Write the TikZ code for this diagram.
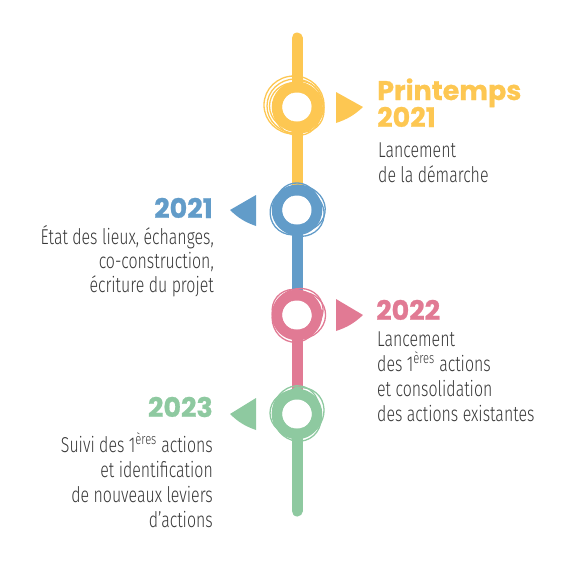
\documentclass[tikz,border=0pt]{standalone}
\usepackage{fontspec}
\setmainfont{Fira Sans Light}[FakeStretch=0.74]
\newfontfamily\headfam{Poppins}[BoldFeatures={FakeBold=0.8}]
\definecolor{ylw}{RGB}{253,199,82}
\definecolor{blu}{RGB}{98,156,201}
\definecolor{pnk}{RGB}{225,122,148}
\definecolor{grn}{RGB}{142,201,160}
\definecolor{txt}{RGB}{55,55,55}
\newcommand\bodysz{\fontsize{21.5}{25}\selectfont}
\newcommand\headsz{\headfam\bfseries\fontsize{27}{27}\selectfont}
\begin{document}
\begin{tikzpicture}[x=1pt,y=-1pt,
  stem/.style={line width=11pt},
  ring/.style={line width=10.5pt},
  scrib/.style={line width=1.3pt},
  bodyl/.style={inner sep=0pt, text=txt, font=\bodysz, anchor=base west},
  bodyr/.style={inner sep=0pt, text=txt, font=\bodysz, anchor=base east},
  headl/.style={inner sep=0pt, font=\headsz, anchor=base west},
  headr/.style={inner sep=0pt, font=\headsz, anchor=base east}]
\useasboundingbox (0,0) rectangle (568,568);
\coordinate (top) at (297,38);
\coordinate (cy) at (297,107);
\coordinate (cb) at (297,210);
\coordinate (cp) at (297,315);
\coordinate (cg) at (297,414);
\coordinate (bot) at (297,511);
% stems
\draw[stem, ylw, line cap=round] (top) -- (297,185);
\draw[stem, blu] (297,185) -- (297,292);
\draw[stem, pnk] (297,292) -- (297,392);
\draw[stem, grn, line cap=round] (297,392) -- (bot);
% rings
\foreach \c/\col/\s in {cy/ylw/0, cb/blu/40, cp/pnk/80, cg/grn/120}{
  \draw[ring, \col] (\c) circle[radius=20pt];
  \begin{scope}[shift={(\c)}]
    \draw[scrib, \col, rotate=\s] (-2,-1) ellipse[x radius=25.5pt, y radius=23.5pt];
    \draw[scrib, \col, rotate=\s+60] (2,1) ellipse[x radius=25pt, y radius=22.5pt];
    \draw[scrib, \col, rotate=\s+130] (-2,2) ellipse[x radius=26pt, y radius=23pt];
    \draw[scrib, \col, rotate=\s+200] (1,-3) ellipse[x radius=23.5pt, y radius=25.5pt];
    \draw[scrib, \col, rotate=\s+250] (-1,2) ellipse[x radius=18pt, y radius=16.5pt];
  \end{scope}
  \fill[white] (\c) circle[radius=14.5pt];
}
\draw[scrib, ylw] (cy) ++(-3,-2) ellipse[x radius=30pt, y radius=29pt];
\draw[scrib, ylw] (cy) ++(-2,-1) ellipse[x radius=28pt, y radius=27pt];
% markers
\fill[ylw] (336,92) -- (363,107) to[bend left=12] (336,123) -- cycle;
\fill[blu] (256,195) -- (230,210) to[bend right=12] (256,226) -- cycle;
\fill[pnk] (336,299) -- (363,315) to[bend left=12] (336,331) -- cycle;
\fill[grn] (256,398) -- (230,414) to[bend right=12] (256,430) -- cycle;
% yellow text
\node[headl, text=ylw] (yh1) at (377,100) {Printemps};
\node[headl, text=ylw] (yh2) at (377,127) {2021};
\node[bodyl] (yb1) at (378,157) {Lancement};
\node[bodyl] (yb2) at (378,182) {de la démarche};
% blue text
\node[headr, text=blu] (bh) at (213,218) {2021};
\node[bodyr] (bb1) at (214,244) {État des lieux, échanges,};
\node[bodyr] (bb2) at (214,268) {co-construction,};
\node[bodyr] (bb3) at (214,292) {écriture du projet};
% pink text
\node[headl, text=pnk] (ph) at (376,320) {2022};
\node[bodyl] (pb1) at (377,346) {Lancement};
\node[bodyl] (pb2) at (377,371) {des 1\textsuperscript{ères} actions};
\node[bodyl] (pb3) at (377,396) {et consolidation};
\node[bodyl] (pb4) at (377,421) {des actions existantes};
% green text
\node[headr, text=grn] (gh) at (213,417) {2023};
\node[bodyr] (gb1) at (213,452) {Suivi des 1\textsuperscript{ères} actions};
\node[bodyr] (gb2) at (213,477) {et identification};
\node[bodyr] (gb3) at (213,502) {de nouveaux leviers};
\node[bodyr] (gb4) at (213,527) {d’actions};
\end{tikzpicture}
\end{document}
